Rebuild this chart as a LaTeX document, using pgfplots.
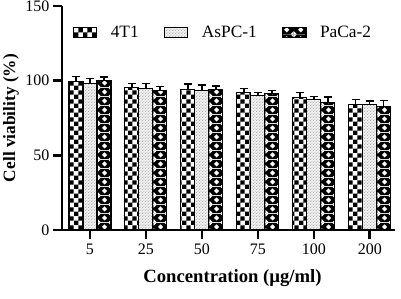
\documentclass[border=0pt]{standalone}
\usepackage{fontspec}
\setmainfont{Liberation Serif}
\usepackage{pgfplots}
\pgfplotsset{compat=1.18}
\usetikzlibrary{patterns}

\pgfdeclarepatternformonly{mycheck}{\pgfpointorigin}{\pgfqpoint{7pt}{7pt}}{\pgfqpoint{7pt}{7pt}}{%
  \pgfpathrectangle{\pgfpointorigin}{\pgfqpoint{3.5pt}{3.5pt}}%
  \pgfpathrectangle{\pgfqpoint{3.5pt}{3.5pt}}{\pgfqpoint{3.5pt}{3.5pt}}%
  \pgfusepath{fill}}

\pgfdeclarepatterninherentlycolored{mydots}{\pgfpointorigin}{\pgfqpoint{2.4pt}{2.4pt}}{\pgfqpoint{2.4pt}{2.4pt}}{%
  \pgfsetfillcolor{black!6}%
  \pgfpathrectangle{\pgfpointorigin}{\pgfqpoint{2.4pt}{2.4pt}}\pgfusepath{fill}%
  \pgfsetfillcolor{black!50}%
  \pgfpathcircle{\pgfqpoint{0.6pt}{0.6pt}}{0.42pt}%
  \pgfpathcircle{\pgfqpoint{1.8pt}{1.8pt}}{0.42pt}%
  \pgfusepath{fill}}

\pgfdeclarepatterninherentlycolored{mydiamond}{\pgfpointorigin}{\pgfqpoint{10.5pt}{6.4pt}}{\pgfqpoint{10.5pt}{6.4pt}}{%
  \pgfsetfillcolor{black}%
  \pgfpathrectangle{\pgfpointorigin}{\pgfqpoint{10.5pt}{6.4pt}}\pgfusepath{fill}%
  \pgfsetfillcolor{white}%
  \pgfpathmoveto{\pgfqpoint{5.25pt}{1.2pt}}%
  \pgfpathlineto{\pgfqpoint{7.25pt}{3.2pt}}%
  \pgfpathlineto{\pgfqpoint{5.25pt}{5.2pt}}%
  \pgfpathlineto{\pgfqpoint{3.25pt}{3.2pt}}%
  \pgfpathclose
  \pgfpathmoveto{\pgfqpoint{0pt}{4.4pt}}%
  \pgfpathlineto{\pgfqpoint{2pt}{6.4pt}}%
  \pgfpathlineto{\pgfqpoint{0pt}{6.4pt}}%
  \pgfpathclose
  \pgfpathmoveto{\pgfqpoint{0pt}{2pt}}%
  \pgfpathlineto{\pgfqpoint{2pt}{0pt}}%
  \pgfpathlineto{\pgfqpoint{0pt}{0pt}}%
  \pgfpathclose
  \pgfpathmoveto{\pgfqpoint{10.5pt}{4.4pt}}%
  \pgfpathlineto{\pgfqpoint{8.5pt}{6.4pt}}%
  \pgfpathlineto{\pgfqpoint{10.5pt}{6.4pt}}%
  \pgfpathclose
  \pgfpathmoveto{\pgfqpoint{10.5pt}{2pt}}%
  \pgfpathlineto{\pgfqpoint{8.5pt}{0pt}}%
  \pgfpathlineto{\pgfqpoint{10.5pt}{0pt}}%
  \pgfpathclose
  \pgfusepath{fill}}

\begin{document}
\begin{tikzpicture}
\begin{axis}[
  name=ax,
  scale only axis, width=249.75pt, height=168pt,
  ybar=0pt, bar width=10.5pt,
  xmin=-0.5, xmax=5.45, ymin=0, ymax=150,
  axis x line*=bottom, axis y line*=left,
  axis line style={line width=2pt, black},
  xtick={0,1,2,3,4,5}, xticklabels={5,25,50,75,100,200},
  ytick={0,50,100,150},
  tick style={line width=2pt, black},
  major tick length=7pt, tick align=outside,
  ticklabel style={font=\fontsize{12}{14}\selectfont},
  yticklabel style={xshift=1pt},
  /pgf/number format/assume math mode=true,
  xlabel={Concentration (µg/ml)},
  ylabel={Cell viability (\%)},
  xlabel style={font=\bfseries\fontsize{14}{16}\selectfont, yshift=-4pt, xshift=3pt},
  ylabel style={font=\bfseries\fontsize{13}{15}\selectfont, yshift=-2pt},
  legend columns=-1,
  legend style={draw=none, fill=none, at={(0.032,0.918)}, anchor=north west,
    font=\fontsize{13}{15}\selectfont, inner sep=0pt,
    nodes={inner sep=1pt},
    /tikz/every odd column/.append style={column sep=0pt},
    /tikz/every even column/.append style={column sep=18pt}},
  legend image code/.code={\draw[#1] (0pt,-3.75pt) rectangle (17.5pt,3.75pt); \path[draw=none, fill=none] (0pt,0pt) -- (27pt,0pt);},
  error bars/y dir=plus, error bars/y explicit,
  error bars/error bar style={line width=1pt, black},
  error bars/error mark options={rotate=90, line width=1pt, mark size=3.2pt, black},
]
\addplot[draw=black, line width=0.8pt, pattern=mycheck, pattern color=black] coordinates {
  (0,99.5) +- (0,3.5)
  (1,95.7) +- (0,2.3)
  (2,94.3) +- (0,3.5)
  (3,92.0) +- (0,2.7)
  (4,89.0) +- (0,3.0)
  (5,84.3) +- (0,3.3)
};
\addplot[draw=black, line width=0.8pt, pattern=mydots] coordinates {
  (0,97.8) +- (0,3.5)
  (1,95.0) +- (0,3.0)
  (2,93.4) +- (0,3.8)
  (3,90.3) +- (0,1.8)
  (4,87.2) +- (0,2.4)
  (5,84.3) +- (0,2.0)
};
\addplot[draw=black, line width=0.8pt, pattern=mydiamond] coordinates {
  (0,100.0) +- (0,2.4)
  (1,93.4) +- (0,2.6)
  (2,94.3) +- (0,2.2)
  (3,91.2) +- (0,2.0)
  (4,85.6) +- (0,3.4)
  (5,82.7) +- (0,4.0)
};
\legend{4T1, AsPC-1, PaCa-2}
\end{axis}
\pgfresetboundingbox
\path[use as bounding box] (ax.south west) ++(-46.5pt,-51.75pt) rectangle ++(300.75pt,224.25pt);
\end{tikzpicture}
\end{document}
